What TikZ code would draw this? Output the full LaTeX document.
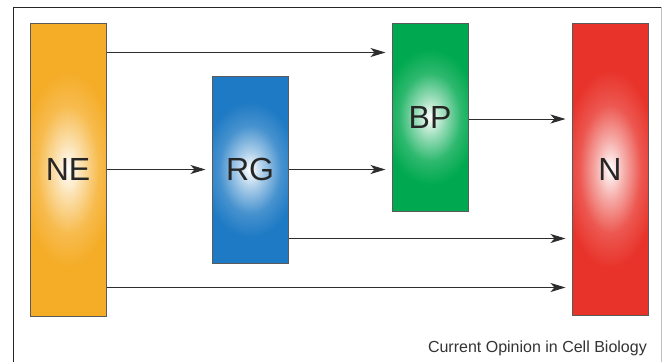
\documentclass[tikz,border=0pt]{standalone}
\usepackage{fontspec}
\setmainfont{Liberation Sans}
\usetikzlibrary{arrows.meta}
\definecolor{cOrange}{RGB}{245,172,38}
\definecolor{cBlue}{RGB}{30,122,196}
\definecolor{cGreen}{RGB}{0,169,79}
\definecolor{cRed}{RGB}{232,51,42}
\definecolor{cBorder}{RGB}{90,90,90}
\definecolor{cLine}{RGB}{45,45,45}
\pgfdeclareradialshading{glowO}{\pgfpoint{0cm}{0cm}}{color(0bp)=(white); color(5bp)=(cOrange!40!white); color(11bp)=(cOrange!82!white); color(17bp)=(cOrange); color(50bp)=(cOrange)}
\pgfdeclareradialshading{glowB}{\pgfpoint{0cm}{0cm}}{color(0bp)=(white); color(5bp)=(cBlue!40!white); color(11bp)=(cBlue!82!white); color(17bp)=(cBlue); color(50bp)=(cBlue)}
\pgfdeclareradialshading{glowG}{\pgfpoint{0cm}{0cm}}{color(0bp)=(white); color(5bp)=(cGreen!40!white); color(11bp)=(cGreen!82!white); color(17bp)=(cGreen); color(50bp)=(cGreen)}
\pgfdeclareradialshading{glowR}{\pgfpoint{0cm}{0cm}}{color(0bp)=(white); color(5bp)=(cRed!40!white); color(11bp)=(cRed!82!white); color(17bp)=(cRed); color(50bp)=(cRed)}
\begin{document}
\begin{tikzpicture}[x=1pt,y=-1pt,
  box/.style 2 args={rectangle, draw=cBorder, line width=1pt, inner sep=0pt,
    minimum width=76pt, fill=#1,
    font=\fontsize{32}{36}\selectfont, text=black!85,
    path picture={\shade[shading=#2]
      (path picture bounding box.center) ellipse [x radius=70pt, y radius=100pt];}},
  arr/.style={draw=cLine, line width=1pt, -{Stealth[length=15pt,width=9pt,inset=4pt]}, shorten >=6pt},
  frameline/.style={draw=black!85, line width=1pt}]
\useasboundingbox (0,0) rectangle (663,362);
\fill[white] (0,0) rectangle (663,362);
\draw[frameline] (661,7) -- (13,7) -- (13,362);
\draw[black!25, line width=0.8pt] (661,7) -- (661,362);
\node[box={cOrange}{glowO}, minimum height=293pt] (NE) at (68,169.5) {NE};
\node[box={cBlue}{glowB}, minimum height=187pt] (RG) at (250,169.5) {RG};
\node[box={cGreen}{glowG}, minimum height=188pt] (BP) at (430,117) {BP};
\node[box={cRed}{glowR}, minimum height=292pt] (N) at (610,169) {N};
\draw[arr] (NE.east |- 0,52.5) -- (BP.west |- 0,52.5);
\draw[arr] (NE.east |- 0,169.5) -- (RG.west |- 0,169.5);
\draw[arr] (RG.east |- 0,169.5) -- (BP.west |- 0,169.5);
\draw[arr] (BP.east |- 0,119) -- (N.west |- 0,119);
\draw[arr] (RG.east |- 0,238.5) -- (N.west |- 0,238.5);
\draw[arr] (NE.east |- 0,287.5) -- (N.west |- 0,287.5);
\node[anchor=base east, inner sep=0pt, font=\fontsize{16}{18}\selectfont, text=black!80] (caption) at (647,352) {Current Opinion in Cell Biology};
\end{tikzpicture}
\end{document}
